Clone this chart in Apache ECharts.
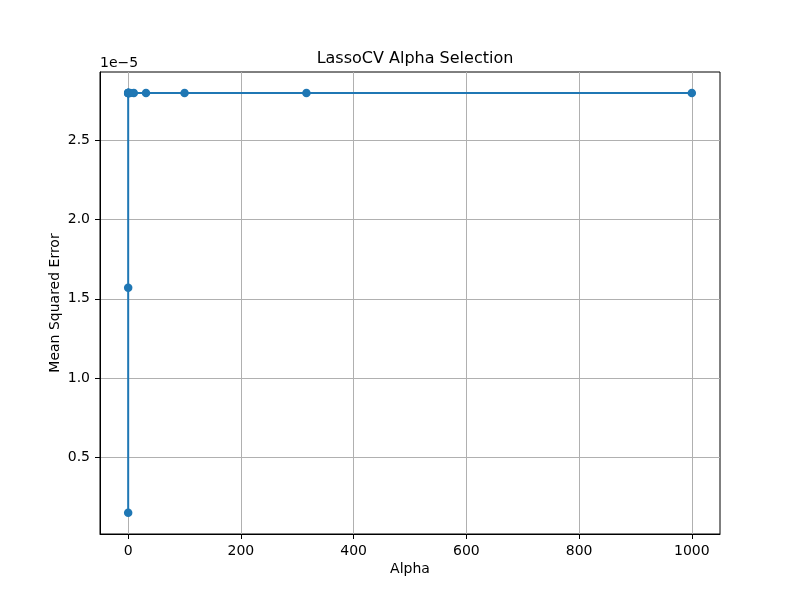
<!DOCTYPE html>
<html>
<head>
<meta charset="utf-8">
<script src="https://cdn.jsdelivr.net/npm/echarts@6/dist/echarts.min.js"></script>
<style>html,body{margin:0;padding:0;background:#fff;}#c{width:800px;height:600px;}</style>
</head>
<body>
<div id="c"></div>
<script>
// Data
const alphas = [0.0001, 0.00031623, 0.001, 0.0031623, 0.01, 0.031623, 0.1, 0.31623, 1, 3.1623, 10, 31.6228, 100, 316.2278, 1000];
const mse = [0.152e-5, 1.569e-5, 2.797e-5, 2.797e-5, 2.797e-5, 2.797e-5, 2.797e-5, 2.797e-5, 2.797e-5, 2.797e-5, 2.797e-5, 2.797e-5, 2.797e-5, 2.797e-5, 2.797e-5];
const xTicks = [0, 200, 400, 600, 800, 1000];
const yTicks = [0.5, 1.0, 1.5, 2.0, 2.5];
const yScale = 1e5; // offset "1e-5"

const font = 'DejaVu Sans';
const chart = echarts.init(document.getElementById('c'));
chart.setOption({
  animation: false,
  backgroundColor: '#fff',
  title: {
    text: 'LassoCV Alpha Selection',
    left: 410, top: 46, textAlign: 'center',
    textStyle: {fontFamily: font, fontSize: 16, fontWeight: 'normal', color: '#000'}
  },
  graphic: [{
    type: 'text', left: 100, top: 56,
    style: {text: '1e\u22125', fontFamily: font, fontSize: 14, fill: '#000'}
  }],
  grid: {left: 100, right: 80, top: 72, bottom: 66, containLabel: false, show: true, borderColor: '#000', borderWidth: 1, backgroundColor: 'transparent'},
  xAxis: {
    type: 'value', min: -50, max: 1050,
    name: 'Alpha', nameLocation: 'middle', nameGap: 28, nameMoveOverlap: false,
    nameTextStyle: {fontFamily: font, fontSize: 14, color: '#000'},
    axisLine: {show: true, onZero: false, lineStyle: {color: '#000', width: 1}},
    axisTick: {show: true, length: 5, inside: false, customValues: xTicks, lineStyle: {color: '#000'}},
    axisLabel: {customValues: xTicks, margin: 10, fontFamily: font, fontSize: 14, color: '#000',
      formatter: v => String(v)},
    splitLine: {show: true, lineStyle: {color: '#b0b0b0', width: 1}}
  },
  yAxis: {
    type: 'value', min: 0.0175, max: 2.929,
    name: 'Mean Squared Error', nameLocation: 'middle', nameGap: 38, nameMoveOverlap: false,
    nameTextStyle: {fontFamily: font, fontSize: 14, color: '#000'},
    axisLine: {show: true, onZero: false, lineStyle: {color: '#000', width: 1}},
    axisTick: {show: true, length: 5, customValues: yTicks, lineStyle: {color: '#000'}},
    axisLabel: {customValues: yTicks, margin: 10, fontFamily: font, fontSize: 14, color: '#000',
      formatter: v => v.toFixed(1)},
    splitLine: {show: true, lineStyle: {color: '#b0b0b0', width: 1}}
  },
  series: [{
    type: 'line',
    data: alphas.map((a, i) => [a, mse[i] * yScale]),
    symbol: 'circle', symbolSize: 8.5, showAllSymbol: true,
    lineStyle: {color: '#1f77b4', width: 2},
    itemStyle: {color: '#1f77b4'},
    z: 3
  }]
});
</script>
</body>
</html>
